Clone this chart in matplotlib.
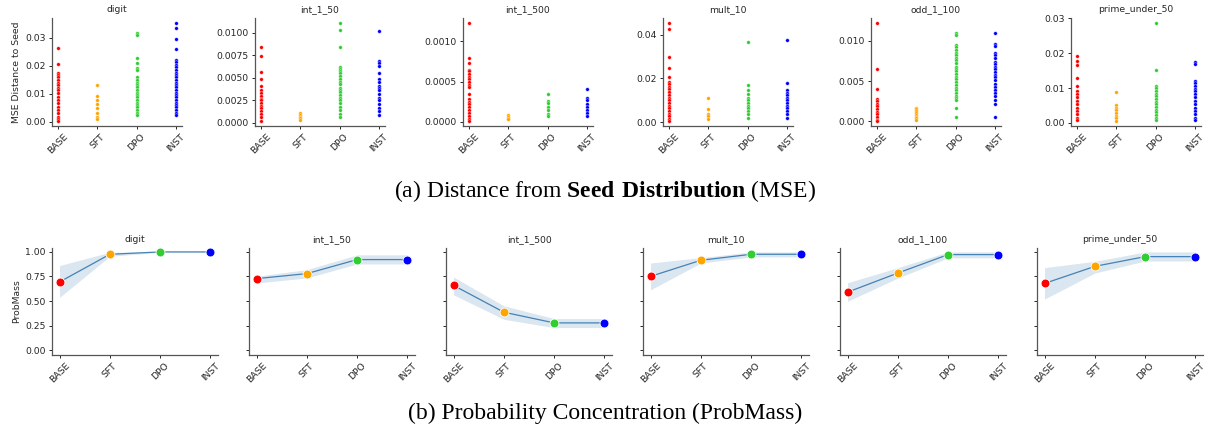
import matplotlib
matplotlib.use("Agg")
import matplotlib.pyplot as plt
import numpy as np

plt.rcParams["mathtext.fontset"] = "custom"
plt.rcParams["mathtext.rm"] = "Liberation Serif"
plt.rcParams["mathtext.bf"] = "Liberation Serif:bold"

# ---------------- data ----------------
tasks = ["digit", "int_1_50", "int_1_500", "mult_10", "odd_1_100", "prime_under_50"]
models = ["BASE", "SFT", "DPO", "INST"]
model_colors = ["#ff0000", "#ffa500", "#32cd32", "#0000ff"]

# (a) MSE distance to seed, per task, per model
mse_digit = {
    "BASE": [0.0264, 0.0208, 0.0176, 0.0169, 0.016, 0.015, 0.014, 0.0132, 0.0122, 0.0114, 0.0104,
             0.009, 0.0078, 0.0066, 0.0054, 0.0042, 0.003, 0.0018, 0.0008, 0.0002],
    "SFT": [0.0132, 0.0092, 0.0078, 0.0064, 0.0048, 0.0032, 0.0018, 0.0008],
    "DPO": [0.0318, 0.031, 0.0228, 0.021, 0.0192, 0.0184, 0.016, 0.015, 0.014, 0.0132, 0.0124,
            0.0114, 0.0104, 0.0096, 0.0088, 0.0078, 0.0068, 0.006, 0.0052, 0.0042, 0.0032, 0.0024],
    "INST": [0.0354, 0.0334, 0.0296, 0.026, 0.0222, 0.0214, 0.0204, 0.0196, 0.0186, 0.0176, 0.0168,
             0.016, 0.015, 0.014, 0.0132, 0.0124, 0.0114, 0.0104, 0.0096, 0.0088, 0.0078, 0.0068,
             0.006, 0.0052, 0.0042, 0.0032, 0.0024],
}
mse_int_1_50 = {
    "BASE": [0.0084, 0.0074, 0.0056, 0.0049, 0.0041, 0.0036, 0.0033, 0.003, 0.0027, 0.0025, 0.0022,
             0.0019, 0.0016, 0.0013, 0.001, 0.0006, 0.0002],
    "SFT": [0.00106, 0.0009, 0.0007, 0.0005, 0.0003],
    "DPO": [0.0111, 0.0103, 0.0084, 0.0062, 0.006, 0.0058, 0.0055, 0.0052, 0.0049, 0.0045, 0.0043,
            0.0039, 0.0036, 0.0034, 0.0031, 0.0028, 0.0025, 0.0022, 0.0018, 0.0014, 0.001, 0.0006],
    "INST": [0.0102, 0.0069, 0.0066, 0.0063, 0.0055, 0.0049, 0.0045, 0.0041, 0.0039, 0.0036, 0.0032,
             0.0028, 0.0025, 0.0021, 0.0017, 0.0013, 0.0009],
}
mse_int_1_500 = {
    "BASE": [0.00123, 0.00079, 0.00073, 0.00065, 0.00063, 0.0006, 0.00056, 0.00053, 0.0005, 0.00046,
             0.00043, 0.00035, 0.00028, 0.00025, 0.00022, 0.00019, 0.00015, 0.00011, 0.00007,
             0.00004, 0.00001],
    "SFT": [0.00008, 0.00006, 0.00004, 0.00003],
    "DPO": [0.00035, 0.00026, 0.00023, 0.00019, 0.00015, 0.0001, 0.00007],
    "INST": [0.00041, 0.0003, 0.00027, 0.00022, 0.00018, 0.00015, 0.00011, 0.00007],
}
mse_mult_10 = {
    "BASE": [0.0454, 0.0426, 0.0297, 0.0248, 0.0205, 0.0185, 0.0174, 0.0162, 0.015, 0.0137, 0.0125,
             0.0112, 0.01, 0.0088, 0.0075, 0.0063, 0.005, 0.0038, 0.0026, 0.0014, 0.0005],
    "SFT": [0.0112, 0.0062, 0.0038, 0.0026, 0.0014],
    "DPO": [0.0368, 0.0169, 0.0149, 0.0128, 0.0112, 0.01, 0.0088, 0.0075, 0.0063, 0.005, 0.0038, 0.002],
    "INST": [0.0377, 0.0177, 0.0146, 0.0134, 0.0123, 0.0112, 0.01, 0.0088, 0.0075, 0.0063, 0.005,
             0.0038, 0.002],
}
mse_odd_1_100 = {
    "BASE": [0.0122, 0.0065, 0.004, 0.0028, 0.0025, 0.0022, 0.0019, 0.0015, 0.0012, 0.0009, 0.0005,
             0.0002, 0.00005],
    "SFT": [0.0017, 0.0015, 0.0013, 0.0011, 0.0008, 0.0006, 0.0004, 0.0002],
    "DPO": [0.011, 0.0107, 0.0095, 0.0092, 0.0089, 0.0085, 0.0082, 0.0079, 0.0076, 0.0072, 0.0068,
            0.0065, 0.0062, 0.0059, 0.0055, 0.0052, 0.0049, 0.0045, 0.0042, 0.0039, 0.0035, 0.0032,
            0.0029, 0.0026, 0.0017, 0.0005],
    "INST": [0.011, 0.0096, 0.0093, 0.0085, 0.0082, 0.0078, 0.0074, 0.0071, 0.0068, 0.0065, 0.0061,
             0.0058, 0.0055, 0.0051, 0.0047, 0.0043, 0.0039, 0.0035, 0.0031, 0.0026, 0.0022, 0.0005],
}
mse_prime_under_50 = {
    "BASE": [0.0193, 0.0178, 0.0165, 0.0128, 0.0106, 0.009, 0.0082, 0.0073, 0.0063, 0.0053, 0.0044,
             0.0034, 0.0024, 0.0015, 0.0007],
    "SFT": [0.0089, 0.0052, 0.0044, 0.0036, 0.0028, 0.002, 0.0013, 0.0005],
    "DPO": [0.0287, 0.0153, 0.0106, 0.01, 0.0092, 0.0084, 0.0076, 0.0069, 0.0061, 0.0053, 0.0045,
            0.0038, 0.003, 0.0022, 0.0014, 0.0007],
    "INST": [0.0175, 0.0169, 0.012, 0.0114, 0.0106, 0.0098, 0.009, 0.0082, 0.0073, 0.0063, 0.0053,
             0.0044, 0.0034, 0.0024, 0.0015, 0.0007],
}
mse_by_task = [mse_digit, mse_int_1_50, mse_int_1_500, mse_mult_10, mse_odd_1_100, mse_prime_under_50]

# y tick labels of the (a) panels
mse_yticks_digit = ["0.00", "0.01", "0.02", "0.03"]
mse_yticks_int_1_50 = ["0.0000", "0.0025", "0.0050", "0.0075", "0.0100"]
mse_yticks_int_1_500 = ["0.0000", "0.0005", "0.0010"]
mse_yticks_mult_10 = ["0.00", "0.02", "0.04"]
mse_yticks_odd_1_100 = ["0.000", "0.005", "0.010"]
mse_yticks_prime_under_50 = ["0.00", "0.01", "0.02", "0.03"]
mse_yticks_by_task = [mse_yticks_digit, mse_yticks_int_1_50, mse_yticks_int_1_500,
                      mse_yticks_mult_10, mse_yticks_odd_1_100, mse_yticks_prime_under_50]

# (b) ProbMass: mean and confidence band per model (BASE, SFT, DPO, INST)
pm_mean_digit = [0.694, 0.976, 1.0, 1.0]
pm_lo_digit = [0.537, 0.956, 0.995, 0.995]
pm_hi_digit = [0.861, 0.997, 1.0, 1.0]

pm_mean_int_1_50 = [0.728, 0.779, 0.922, 0.922]
pm_lo_int_1_50 = [0.684, 0.735, 0.878, 0.878]
pm_hi_int_1_50 = [0.752, 0.82, 0.97, 0.97]

pm_mean_int_1_500 = [0.659, 0.386, 0.277, 0.277]
pm_lo_int_1_500 = [0.563, 0.314, 0.229, 0.229]
pm_hi_int_1_500 = [0.744, 0.451, 0.321, 0.321]

pm_mean_mult_10 = [0.751, 0.915, 0.976, 0.976]
pm_lo_mult_10 = [0.614, 0.887, 0.949, 0.949]
pm_hi_mult_10 = [0.887, 0.942, 1.0, 1.0]

pm_mean_odd_1_100 = [0.59, 0.785, 0.973, 0.973]
pm_lo_odd_1_100 = [0.498, 0.734, 0.94, 0.94]
pm_hi_odd_1_100 = [0.686, 0.84, 1.0, 1.0]

pm_mean_prime_under_50 = [0.679, 0.853, 0.952, 0.952]
pm_lo_prime_under_50 = [0.52, 0.785, 0.908, 0.908]
pm_hi_prime_under_50 = [0.84, 0.904, 1.0, 1.0]

pm_by_task = [
    (pm_mean_digit, pm_lo_digit, pm_hi_digit),
    (pm_mean_int_1_50, pm_lo_int_1_50, pm_hi_int_1_50),
    (pm_mean_int_1_500, pm_lo_int_1_500, pm_hi_int_1_500),
    (pm_mean_mult_10, pm_lo_mult_10, pm_hi_mult_10),
    (pm_mean_odd_1_100, pm_lo_odd_1_100, pm_hi_odd_1_100),
    (pm_mean_prime_under_50, pm_lo_prime_under_50, pm_hi_prime_under_50),
]
pm_yticks = ["0.00", "0.25", "0.50", "0.75", "1.00"]

# ---------------- figure ----------------
W, H = 1210, 434
fig = plt.figure(figsize=(W / 100, H / 100), dpi=100)

FS = 6.7
TXT = "#262626"
SPINE = "#555555"


def px_axes(left, right, top, bottom):
    return fig.add_axes([left / W, 1 - bottom / H, (right - left) / W, (bottom - top) / H])


def style(ax):
    for s in ("top", "right"):
        ax.spines[s].set_visible(False)
    for s in ("left", "bottom"):
        ax.spines[s].set_color(SPINE)
        ax.spines[s].set_linewidth(0.9)
    ax.tick_params(axis="both", labelsize=FS, colors=TXT, length=2.5, width=0.7, pad=2)


top_lefts = [52, 255, 463, 663, 871, 1071]
top_width = 130
bot_lefts = [52, 249, 446, 643, 840, 1037]
bot_width = 166

x = np.arange(len(models))

for i, task in enumerate(tasks):
    # ---- (a) scatter ----
    ax = px_axes(top_lefts[i], top_lefts[i] + top_width, 18, 126)
    data = mse_by_task[i]
    for j, m in enumerate(models):
        vals = np.array(data[m])
        ax.scatter(np.full(len(vals), x[j]), vals, s=7, color=model_colors[j],
                   edgecolors="white", linewidths=0.25, zorder=3)
    ax.set_xticks(x)
    ax.set_xticklabels(models, rotation=45)
    ax.margins(x=0.05, y=0.05)
    ylabels = mse_yticks_by_task[i]
    ax.set_yticks([float(v) for v in ylabels])
    ax.set_yticklabels(ylabels)
    ax.set_title(task, fontsize=FS, color=TXT, pad=4)
    style(ax)
    if i == 0:
        ax.set_ylabel("MSE Distance to Seed", fontsize=FS, color=TXT, labelpad=3)

    # ---- (b) line with band ----
    axb = px_axes(bot_lefts[i], bot_lefts[i] + bot_width, 248, 355)
    mean, lo, hi = pm_by_task[i]
    axb.fill_between(x, lo, hi, color="#4682b4", alpha=0.2, linewidth=0, zorder=1)
    axb.plot(x, mean, color="#4682b4", linewidth=0.9, zorder=2)
    for j in range(len(models)):
        axb.plot(x[j], mean[j], "o", markersize=6.4, color=model_colors[j],
                 markeredgecolor="white", markeredgewidth=0.6, zorder=4)
    axb.set_xticks(x)
    axb.set_xticklabels(models, rotation=45)
    axb.set_xlim(-0.15, 3.15)
    axb.set_ylim(-0.05, 1.04)
    axb.set_yticks([float(v) for v in pm_yticks])
    axb.set_title(task, fontsize=FS, color=TXT, pad=4)
    style(axb)
    if i == 0:
        axb.set_yticklabels(pm_yticks)
        axb.set_ylabel("ProbMass", fontsize=FS, color=TXT, labelpad=3)
    else:
        axb.set_yticklabels([])

# captions
serif = ["Liberation Serif", "DejaVu Serif"]
cap_fs = 17
fig.text(0.5, 1 - 191 / H, "(a) Distance from $\\mathbf{Seed\\ Distribution}$ (MSE)",
         ha="center", va="center", fontsize=cap_fs, family=serif)
fig.text(0.5, 1 - 413 / H, "(b) Probability Concentration (ProbMass)",
         ha="center", va="center", fontsize=cap_fs, family=serif)

fig.savefig("out.png", dpi=100)
